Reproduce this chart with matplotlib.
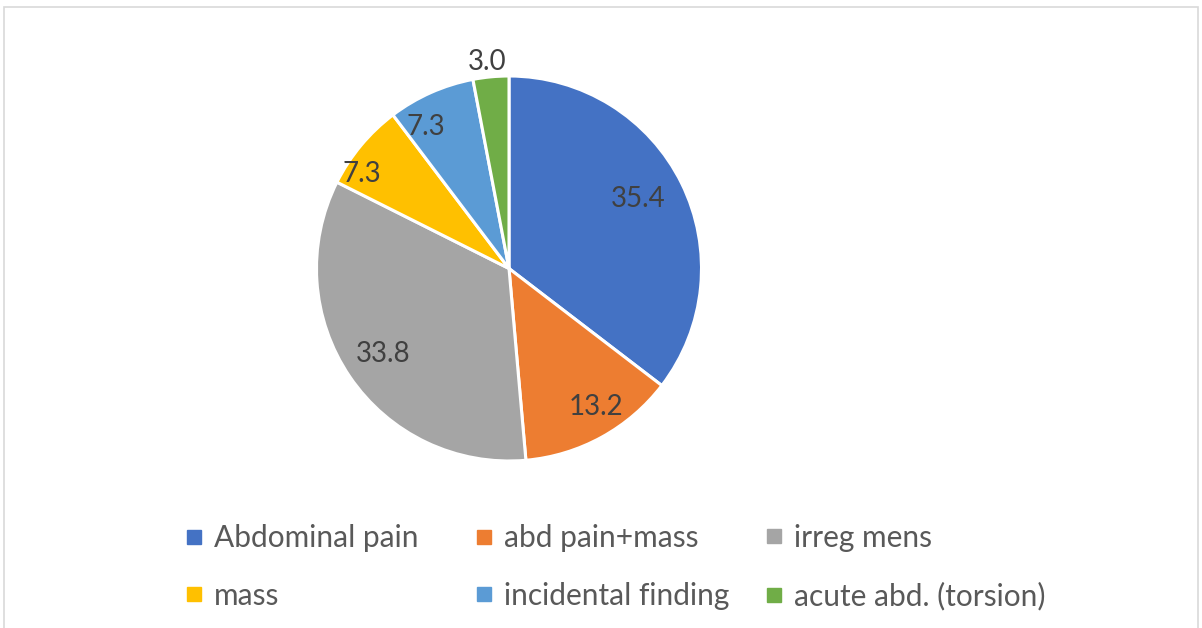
import matplotlib
matplotlib.use("Agg")
import matplotlib.pyplot as plt
import numpy as np
from matplotlib.patches import Rectangle
from matplotlib.lines import Line2D

categories = ["Abdominal pain", "abd pain+mass", "irreg mens", "mass",
              "incidental finding", "acute abd. (torsion)"]
values = [35.4, 13.2, 33.8, 7.3, 7.3, 3.0]
value_labels = ["35.4", "13.2", "33.8", "7.3", "7.3", "3.0"]
colors = ["#4472C4", "#ED7D31", "#A5A5A5", "#FFC000", "#5B9BD5", "#70AD47"]

W, H = 1202, 628
fig = plt.figure(figsize=(W / 100, H / 100), dpi=100)
fig.patch.set_facecolor("white")

# border
fig.patches.append(Rectangle((4 / W, -0.1), 1194 / W, (H - 7) / H + 0.1,
                             transform=fig.transFigure, fill=False,
                             edgecolor="#D9D9D9", linewidth=1.2))

cx, cy, r = 509, 268.5, 192.5
ax = fig.add_axes([(cx - r) / W, (H - cy - r) / H, 2 * r / W, 2 * r / H])
wedges, _ = ax.pie(values, colors=colors, startangle=90, counterclock=False,
                   wedgeprops=dict(edgecolor="white", linewidth=2.2))
ax.set_xlim(-1, 1)
ax.set_ylim(-1, 1)
ax.set_aspect("equal")
ax.axis("off")

font = "Lato"
dists = [0.76, 0.85, 0.79, 0.91, 0.85, 1.08]
angle_shift = [2, 3.5, 0, 7, 6.5, 0.5]
for w, lab, d, sh in zip(wedges, value_labels, dists, angle_shift):
    th = np.deg2rad((w.theta1 + w.theta2) / 2 + sh)
    ax.text(d * np.cos(th), d * np.sin(th), lab, ha="center", va="center",
            fontsize=20, color="#404040", family=font, clip_on=False)

handles = [Line2D([], [], marker="s", linestyle="none", markersize=9.5,
                  markerfacecolor=c, markeredgecolor=c) for c in colors]

# three legend columns at equal spacing (row-wise order like the reference)
col_left = [186, 476, 766]
for j in range(3):
    idx = [j, j + 3]
    fig.legend([handles[i] for i in idx], [categories[i] for i in idx],
               loc="center left", bbox_to_anchor=(col_left[j] / W, 1 - 567 / H),
               frameon=False, borderpad=0, borderaxespad=0,
               prop=dict(family=font, size=21.5), labelcolor="#595959",
               handlelength=0.55, handletextpad=0.38, labelspacing=1.0)

fig.savefig("out.png", dpi=100, facecolor="white")
